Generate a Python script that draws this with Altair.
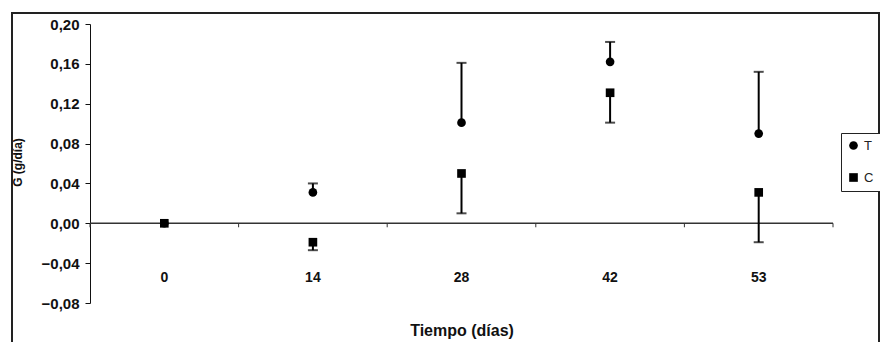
import altair as alt
import pandas as pd

# ---- data ----
days = ["0", "14", "28", "42", "53"]
t_mean = [0.000, 0.031, 0.101, 0.162, 0.090]
t_err = [0.000, 0.009, 0.060, 0.020, 0.062]   # upper error bar
c_mean = [0.000, -0.019, 0.050, 0.131, 0.031]
c_err = [0.000, 0.008, 0.040, 0.030, 0.050]   # lower error bar
series = ["T", "C"]
y_ticks = [-0.08, -0.04, 0.00, 0.04, 0.08, 0.12, 0.16, 0.20]

rows = []
for d, m, e in zip(days, t_mean, t_err):
    rows.append(dict(day=d, serie="T", g=m, lo=m, hi=m + e, cap=m + e, err=e))
for d, m, e in zip(days, c_mean, c_err):
    rows.append(dict(day=d, serie="C", g=m, lo=m - e, hi=m, cap=m - e, err=e))
df = pd.DataFrame(rows)
err_df = df[df["err"] > 0]

W, H = 743, 279
FONT = "Liberation Sans"

xscale = alt.Scale(domain=days, paddingInner=0, paddingOuter=0)
yscale = alt.Scale(domain=[-0.08, 0.20], nice=False, zero=False)

x_axis = alt.Axis(
    title="Tiempo (días)", labelAngle=0, domain=False, ticks=False,
    offset=-33, labelPadding=0, labelFont=FONT, labelFontWeight="bold",
    labelFontSize=14, labelColor="#111", titleFont=FONT, titleFontWeight="bold",
    titleFontSize=16, titleColor="#111", titlePadding=38,
)
y_axis = alt.Axis(
    title="G (g/día)", values=y_ticks, grid=False, labelOverlap=False,
    labelExpr="replace(format(datum.value, '.2f'), '.', ',')",
    domainColor="#111", tickColor="#111", tickSize=5, labelPadding=6,
    labelFont=FONT, labelFontWeight="bold", labelFontSize=15, labelColor="#111",
    titleFont=FONT, titleFontWeight="bold", titleFontSize=12, titleColor="#111",
    titleX=-73, titleY=138, titleAlign="center", titleBaseline="middle",
)

def xs(band=0.5):
    return alt.X("day:N", scale=xscale, sort=days, bandPosition=band, axis=x_axis)

def ys(field):
    return alt.Y(field, scale=yscale, axis=y_axis)

# outer frame (decoration)
frame = alt.Chart(pd.DataFrame({"a": [0]})).mark_rect(
    fillOpacity=0, stroke="#222", strokeWidth=2, clip=False
).encode(x=alt.value(-78), x2=alt.value(789), y=alt.value(-11), y2=alt.value(340))

zero_line = alt.Chart(pd.DataFrame({"z": [0.0]})).mark_rule(
    color="#333", strokeWidth=1.5
).encode(y=ys("z:Q"))

tick_df = pd.DataFrame({"day": days, "y0": [0.0] * len(days), "y1": [-0.004] * len(days)})
ticks_left = alt.Chart(tick_df).mark_rule(color="#333", strokeWidth=1).encode(
    x=xs(0), y=ys("y0:Q"), y2="y1:Q",
)
ticks_right = alt.Chart(tick_df.tail(1)).mark_rule(color="#333", strokeWidth=1).encode(
    x=xs(1), y=ys("y0:Q"), y2="y1:Q",
)

bars = alt.Chart(err_df).mark_rule(color="black", strokeWidth=2).encode(
    x=xs(), y=ys("lo:Q"), y2="hi:Q",
)
caps = alt.Chart(err_df).mark_tick(
    color="black", orient="horizontal", size=10, thickness=2
).encode(x=xs(), y=ys("cap:Q"))

points = alt.Chart(df).mark_point(
    filled=True, size=75, opacity=1, color="black"
).encode(
    x=xs(), y=ys("g:Q"),
    shape=alt.Shape(
        "serie:N",
        scale=alt.Scale(domain=series, range=["circle", "square"]),
        legend=alt.Legend(
            title=None, orient="none", legendX=751, legendY=109,
            strokeColor="#222", fillColor="white", padding=6,
            symbolSize=75, symbolFillColor="black", symbolStrokeColor="black",
            labelFont=FONT, labelFontSize=13, labelColor="#222",
            rowPadding=17, labelOffset=4,
        ),
    ),
)

chart = alt.layer(zero_line, ticks_left, ticks_right, bars, caps, points, frame).properties(
    width=W, height=H, background="white",
    autosize=alt.AutoSizeParams(type="none"),
    padding={"left": 82, "top": 16, "right": 47, "bottom": 39},
).configure_view(stroke=None)

chart.save("out.html", embed_options={"renderer": "svg", "actions": False})
